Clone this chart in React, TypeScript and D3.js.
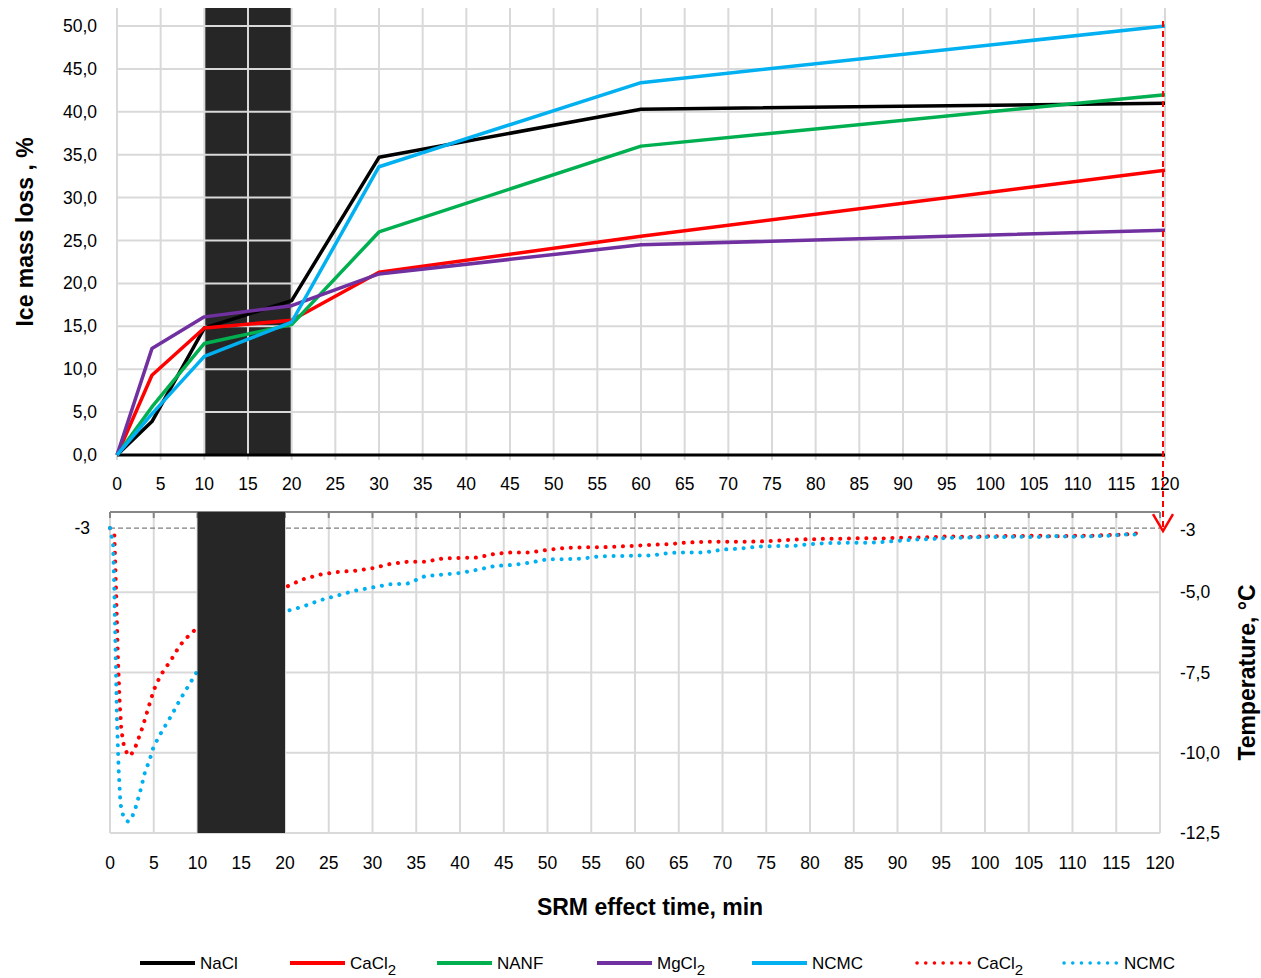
import React from "react";
import * as d3 from "d3";

// ice mass loss (%) vs time (min)
const massTimes = [0, 4, 10, 20, 30, 60, 120];
const naclLoss = [0, 3.9, 14.8, 18.0, 34.7, 40.3, 41.0];
const cacl2Loss = [0, 9.3, 14.8, 15.7, 21.3, 25.5, 33.2];
const nanfLoss = [0, 5.6, 13.0, 15.2, 26.0, 36.0, 42.0];
const mgcl2Loss = [0, 12.4, 16.1, 17.4, 21.1, 24.5, 26.2];
const ncmcLoss = [0, 4.8, 11.5, 15.5, 33.6, 43.4, 50.0];

// temperature (°C) vs time (min)
const cacl2TempTimes = [
  0, 0.5, 0.7, 0.9, 1.1, 1.3, 1.6, 2.0, 2.3, 2.8, 3.2, 3.6, 4, 4.5, 5, 5.5, 6, 7, 8, 9, 10,
  20, 22, 24, 26, 28, 30, 32, 34, 36, 38, 40, 42, 44, 46, 48, 50, 52, 54, 56, 58, 60, 62, 64,
  66, 68, 70, 72, 74, 76, 78, 80, 82, 84, 86, 88, 90, 92, 94, 96, 98, 100, 102, 104, 106, 108,
  110, 112, 114, 116, 118,
];
const cacl2Temp = [
  -3, -3.2, -5.0, -7.0, -8.4, -9.3, -9.8, -10.05, -10.1, -9.9, -9.6, -9.3, -8.95, -8.5, -8.05,
  -7.75, -7.5, -7.1, -6.65, -6.35, -6.1,
  -4.85, -4.6, -4.45, -4.37, -4.33, -4.25, -4.12, -4.05, -4.05, -3.95, -3.93, -3.92, -3.8, -3.76,
  -3.76, -3.68, -3.62, -3.6, -3.6, -3.58, -3.55, -3.52, -3.5, -3.45, -3.43, -3.43, -3.43, -3.42,
  -3.4, -3.36, -3.35, -3.33, -3.33, -3.31, -3.33, -3.3, -3.3, -3.28, -3.26, -3.28, -3.26, -3.25,
  -3.25, -3.24, -3.26, -3.24, -3.24, -3.22, -3.2, -3.15,
];
const ncmcTempTimes = [
  0, 0.35, 0.5, 0.65, 0.8, 1.0, 1.2, 1.5, 1.8, 2.1, 2.6, 3.0, 3.5, 4, 4.5, 5, 6, 7, 8, 9, 10,
  20, 22, 24, 26, 28, 30, 32, 34, 36, 38, 40, 42, 44, 46, 48, 50, 52, 54, 56, 58, 60, 62, 64,
  66, 68, 70, 72, 74, 76, 78, 80, 82, 84, 86, 88, 90, 92, 94, 96, 98, 100, 102, 104, 106, 108,
  110, 112, 114, 116, 118,
];
const ncmcTemp = [
  -3, -3.5, -5.0, -7.0, -9.0, -10.6, -11.6, -11.95, -12.1, -12.15, -11.95, -11.65, -11.15, -10.6,
  -10.25, -9.8, -9.3, -8.85, -8.35, -7.9, -7.45,
  -5.6, -5.45, -5.25, -5.1, -4.95, -4.85, -4.75, -4.73, -4.5, -4.45, -4.4, -4.3, -4.18, -4.15,
  -4.08, -3.97, -3.97, -3.95, -3.88, -3.87, -3.86, -3.85, -3.77, -3.76, -3.76, -3.67, -3.64,
  -3.58, -3.56, -3.56, -3.5, -3.47, -3.46, -3.46, -3.44, -3.4, -3.36, -3.34, -3.3, -3.3, -3.28,
  -3.28, -3.27, -3.28, -3.25, -3.27, -3.26, -3.24, -3.2, -3.2,
];

const massTicks = [0, 5, 10, 15, 20, 25, 30, 35, 40, 45, 50];
const timeTicks = d3.range(0, 121, 5);
const tempTicks = [-5, -7.5, -10, -12.5];
const tempRef = -3;
const blackout = [10, 20];

const massSeries = [
  { name: "NaCl", values: naclLoss, color: "#000000" },
  { name: "CaCl2", values: cacl2Loss, color: "#ff0000" },
  { name: "NANF", values: nanfLoss, color: "#00b050" },
  { name: "MgCl2", values: mgcl2Loss, color: "#7030a0" },
  { name: "NCMC", values: ncmcLoss, color: "#00b0f0" },
];
const tempSeries = [
  { name: "CaCl2", times: cacl2TempTimes, values: cacl2Temp, color: "#ff0000" },
  { name: "NCMC", times: ncmcTempTimes, values: ncmcTemp, color: "#00b0f0" },
];

const FONT = "Arial, 'Liberation Sans', sans-serif";
const fmt = (v: number) => v.toFixed(1).replace(".", ",");
const GRID = "#d9d9d9";
const DOT = "0.1 8.6";
const TICK = 17.5;
const TITLE = 23;

function Label({ name, x, y, anchor = "start" }: any) {
  const sub = name.endsWith("2");
  return (
    <text x={x} y={y} fontSize={17} fontFamily={FONT} textAnchor={anchor} fill="#000">
      {sub ? name.slice(0, -1) : name}
      {sub && (
        <tspan dy={6} fontSize={15}>
          2
        </tspan>
      )}
    </text>
  );
}

export default function App() {
  const width = 1261;
  const height = 978;

  const xTop = d3.scaleLinear().domain([0, 120]).range([117, 1165]);
  const yTop = d3.scaleLinear().domain([0, 52.1]).range([455, 8]);
  const xBot = d3.scaleLinear().domain([0, 120]).range([110, 1160]);
  const yBot = d3.scaleLinear().domain([-12.5, -2.5]).range([833, 512]);

  const massLine = d3
    .line<number>()
    .x((_, i) => xTop(massTimes[i]))
    .y((d) => yTop(d));

  const tempLine = (times: number[]) =>
    d3
      .line<number>()
      .x((_, i) => xBot(times[i]))
      .y((d) => yBot(d));

  const legend = [
    { name: "NaCl", color: "#000000", dotted: false, x: 140 },
    { name: "CaCl2", color: "#ff0000", dotted: false, x: 290 },
    { name: "NANF", color: "#00b050", dotted: false, x: 437 },
    { name: "MgCl2", color: "#7030a0", dotted: false, x: 597 },
    { name: "NCMC", color: "#00b0f0", dotted: false, x: 752 },
    { name: "CaCl2", color: "#ff0000", dotted: true, x: 917 },
    { name: "NCMC", color: "#00b0f0", dotted: true, x: 1064 },
  ];

  const arrowX = xTop(120) - 2;
  const arrowTip = yBot(tempRef) + 3;

  return (
    <svg
      width={width}
      height={height}
      style={{ position: "absolute", left: 0, top: 0, background: "#fff" }}
    >
      {/* ---------- top chart ---------- */}
      <rect
        x={xTop(blackout[0])}
        y={yTop(52.1)}
        width={xTop(blackout[1]) - xTop(blackout[0])}
        height={yTop(0) - yTop(52.1)}
        fill="#262626"
      />
      {timeTicks.map((t) => (
        <line key={"tv" + t} x1={xTop(t)} x2={xTop(t)} y1={yTop(52.1)} y2={yTop(0) + 5} stroke={GRID} strokeWidth={2} />
      ))}
      {massTicks.slice(1).map((v) => (
        <line key={"th" + v} x1={xTop(0)} x2={xTop(120)} y1={yTop(v)} y2={yTop(v)} stroke={GRID} strokeWidth={2} />
      ))}
      <line x1={xTop(0)} x2={xTop(120)} y1={yTop(0)} y2={yTop(0)} stroke="#000" strokeWidth={3} />
      {massTicks.map((v) => (
        <text key={"ml" + v} x={97} y={yTop(v) + 6} fontSize={TICK} fontFamily={FONT} textAnchor="end" fill="#000">
          {fmt(v)}
        </text>
      ))}
      {timeTicks.map((t) => (
        <text key={"xl" + t} x={xTop(t)} y={490} fontSize={TICK} fontFamily={FONT} textAnchor="middle" fill="#000">
          {t}
        </text>
      ))}
      <text
        transform={`translate(33,${yTop(26)}) rotate(-90)`}
        fontSize={TITLE}
        fontWeight="bold"
        fontFamily={FONT}
        textAnchor="middle"
        fill="#000"
      >
        Ice mass loss , %
      </text>
      {massSeries.map((s) => (
        <path
          key={"m" + s.name}
          d={massLine(s.values) || ""}
          fill="none"
          stroke={s.color}
          strokeWidth={3.5}
          strokeLinejoin="round"
        />
      ))}

      {/* ---------- bottom chart ---------- */}
      {timeTicks.map((t) => (
        <line key={"bv" + t} x1={xBot(t)} x2={xBot(t)} y1={yBot(-2.5)} y2={yBot(-12.5)} stroke={GRID} strokeWidth={2} />
      ))}
      {tempTicks.map((v) => (
        <line key={"bh" + v} x1={xBot(0)} x2={xBot(120)} y1={yBot(v)} y2={yBot(v)} stroke={GRID} strokeWidth={2} />
      ))}
      <line x1={xBot(0)} x2={xBot(120)} y1={yBot(-2.5)} y2={yBot(-2.5)} stroke="#868686" strokeWidth={2} />
      {timeTicks.map((t) => (
        <line key={"bt" + t} x1={xBot(t)} x2={xBot(t)} y1={yBot(-2.5)} y2={yBot(-2.5) + 6} stroke="#868686" strokeWidth={2} />
      ))}
      <line
        x1={xBot(0)}
        x2={xBot(120)}
        y1={yBot(tempRef)}
        y2={yBot(tempRef)}
        stroke="#7f7f7f"
        strokeWidth={1.3}
        strokeDasharray="5 3"
      />
      {tempSeries.map((s) => (
        <path
          key={"t" + s.name}
          d={tempLine(s.times)(s.values) || ""}
          fill="none"
          stroke={s.color}
          strokeWidth={4}
          strokeLinecap="round"
          strokeDasharray={DOT}
        />
      ))}
      <rect
        x={xBot(blackout[0])}
        y={yBot(-2.5)}
        width={xBot(blackout[1]) - xBot(blackout[0])}
        height={yBot(-12.5) - yBot(-2.5)}
        fill="#262626"
      />
      <text x={90} y={yBot(tempRef) + 6} fontSize={TICK} fontFamily={FONT} textAnchor="end" fill="#000">
        -3
      </text>
      <text x={1180} y={yBot(tempRef) + 8} fontSize={TICK} fontFamily={FONT} fill="#000">
        -3
      </text>
      {tempTicks.map((v) => (
        <text key={"rl" + v} x={1180} y={yBot(v) + 6} fontSize={TICK} fontFamily={FONT} fill="#000">
          {fmt(v)}
        </text>
      ))}
      {timeTicks.map((t) => (
        <text key={"bl" + t} x={xBot(t)} y={869} fontSize={TICK} fontFamily={FONT} textAnchor="middle" fill="#000">
          {t}
        </text>
      ))}
      <text
        transform={`translate(1255,${yBot(-7.5)}) rotate(-90)`}
        fontSize={TITLE}
        fontWeight="bold"
        fontFamily={FONT}
        textAnchor="middle"
        fill="#000"
      >
        Temperature, °C
      </text>
      <text x={650} y={915} fontSize={TITLE} fontWeight="bold" fontFamily={FONT} textAnchor="middle" fill="#000">
        SRM effect time, min
      </text>

      {/* arrow linking the two charts */}
      <line
        x1={arrowX}
        x2={arrowX}
        y1={yTop(50) - 5}
        y2={arrowTip}
        stroke="#ff0000"
        strokeWidth={2}
        strokeDasharray="6 4"
      />
      <polyline
        points={`${arrowX - 10},${arrowTip - 17} ${arrowX},${arrowTip} ${arrowX + 10},${arrowTip - 17}`}
        fill="none"
        stroke="#ff0000"
        strokeWidth={2.5}
      />

      {/* ---------- legend ---------- */}
      {legend.map((l, i) => (
        <g key={"lg" + i}>
          <line
            x1={l.x}
            x2={l.x + 55}
            y1={963}
            y2={963}
            stroke={l.color}
            strokeWidth={l.dotted ? 3.5 : 4}
            strokeLinecap={l.dotted ? "round" : "butt"}
            strokeDasharray={l.dotted ? DOT : undefined}
          />
          <Label name={l.name} x={l.x + 60} y={969} />
        </g>
      ))}
    </svg>
  );
}
